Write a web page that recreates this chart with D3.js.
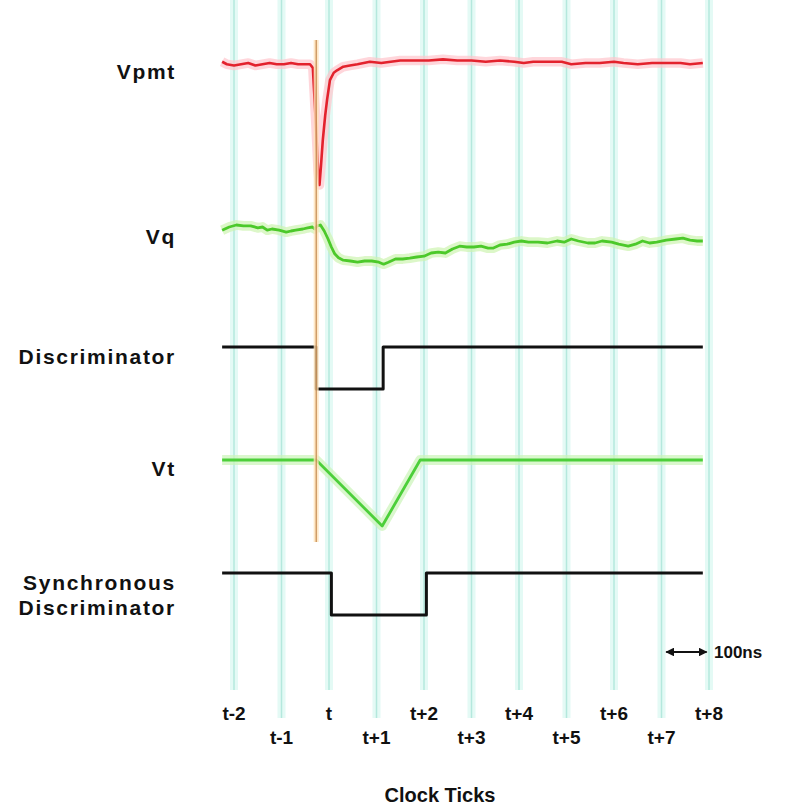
<!DOCTYPE html>
<html>
<head>
<meta charset="utf-8">
<script src="https://cdn.jsdelivr.net/npm/d3@7"></script>
<style>
  html, body { margin: 0; padding: 0; background: #fff; }
  svg { display: block; }
  text { font-family: "Liberation Sans", Arial, sans-serif; font-weight: bold; fill: #111; }
</style>
</head>
<body>
<svg id="chart" width="797" height="807"></svg>
<script>
// Clock ticks (in clock periods relative to t)
const tickValues = [-2, -1, 0, 1, 2, 3, 4, 5, 6, 7, 8];
const tickLabels = ["t-2", "t-1", "t", "t+1", "t+2", "t+3", "t+4", "t+5", "t+6", "t+7", "t+8"];

// Row names
const rowLabels = ["Vpmt", "Vq", "Discriminator", "Vt", "Synchronous\nDiscriminator"];

// Photon arrival time (clock periods)
const arrivalTime = -0.27;

// PMT anode voltage, normalised to the pulse peak [time, value]
const vpmt = [
  [-2.25, 0.01], [-2.15, -0.01], [-2.0, -0.02], [-1.85, -0.01], [-1.7, 0.0], [-1.55, -0.02],
  [-1.4, -0.01], [-1.25, 0.0], [-1.1, -0.01], [-0.95, -0.01], [-0.8, 0.0], [-0.65, -0.01],
  [-0.5, -0.01], [-0.4, -0.01], [-0.34, -0.04], [-0.28, -0.47], [-0.23, -0.88], [-0.2, -1.0],
  [-0.17, -0.85], [-0.13, -0.63], [-0.08, -0.43], [-0.04, -0.30], [0.02, -0.14], [0.1, -0.08],
  [0.17, -0.06], [0.3, -0.03], [0.44, -0.02], [0.6, -0.01], [0.86, 0.01], [1.1, 0.0],
  [1.3, 0.01], [1.5, 0.02], [1.8, 0.02], [2.1, 0.02], [2.4, 0.03], [2.7, 0.02], [3.0, 0.02],
  [3.3, 0.01], [3.6, 0.02], [3.9, 0.01], [4.1, 0.0], [4.3, 0.01], [4.6, 0.01], [4.9, 0.01],
  [5.1, -0.01], [5.4, 0.0], [5.7, 0.0], [6.0, 0.01], [6.2, 0.0], [6.5, -0.01], [6.8, 0.0],
  [7.1, 0.0], [7.4, 0.0], [7.6, -0.01], [7.87, 0.0]
];

// Integrated charge voltage, normalised [time, value]
const vq = [
  [-2.25, -0.03], [-2.1, 0.05], [-1.95, 0.10], [-1.8, 0.08], [-1.65, 0.08], [-1.5, 0.03],
  [-1.4, 0.05], [-1.3, -0.03], [-1.2, 0.0], [-1.05, -0.03], [-0.9, -0.08], [-0.8, -0.05],
  [-0.7, -0.03], [-0.55, 0.0], [-0.45, 0.03], [-0.35, 0.05], [-0.3, 0.0], [-0.25, 0.08],
  [-0.18, 0.10], [-0.1, -0.05], [-0.02, -0.25], [0.05, -0.45], [0.12, -0.62], [0.2, -0.72],
  [0.3, -0.78], [0.45, -0.8], [0.6, -0.83], [0.75, -0.8], [0.9, -0.8], [1.05, -0.83],
  [1.15, -0.88], [1.25, -0.83], [1.4, -0.75], [1.55, -0.75], [1.7, -0.73], [1.85, -0.70],
  [2.0, -0.68], [2.15, -0.6], [2.3, -0.58], [2.45, -0.6], [2.6, -0.5], [2.75, -0.43],
  [2.9, -0.45], [3.05, -0.45], [3.2, -0.43], [3.35, -0.48], [3.45, -0.48], [3.6, -0.4],
  [3.75, -0.38], [3.9, -0.33], [4.05, -0.3], [4.2, -0.33], [4.4, -0.33], [4.6, -0.35],
  [4.8, -0.30], [4.95, -0.33], [5.1, -0.25], [5.25, -0.30], [5.45, -0.35], [5.6, -0.35],
  [5.75, -0.30], [5.95, -0.33], [6.1, -0.38], [6.3, -0.43], [6.45, -0.38], [6.6, -0.30],
  [6.75, -0.35], [6.9, -0.33], [7.1, -0.28], [7.3, -0.25], [7.45, -0.23], [7.6, -0.28],
  [7.75, -0.30], [7.87, -0.30]
];

// Discriminator logic level (step after each point)
const discriminator = [[-2.25, 1], [-0.27, 0], [1.14, 1], [7.87, 1]];

// Time-to-amplitude ramp, normalised
const vt = [[-2.25, 0], [-0.27, 0], [1.12, -1], [1.92, 0], [7.87, 0]];

// Discriminator output re-timed to the clock (step after each point)
const syncDiscriminator = [[-2.25, 1], [0.05, 0], [2.05, 1], [7.87, 1]];

// Scale bar length (clock periods) and its label
const scaleBar = [7.1, 7.95];
const scaleBarLabel = "100ns";

const svg = d3.select("#chart");

const x = d3.scaleLinear().domain([-2, 8]).range([234, 709]);

// One vertical scale per trace row
const yPmt = d3.scaleLinear().domain([-1, 0]).range([185, 63]);
const yQ = d3.scaleLinear().domain([-1, 0]).range([269, 229]);
const yDisc = d3.scaleLinear().domain([0, 1]).range([389, 347]);
const yT = d3.scaleLinear().domain([-1, 0]).range([526, 460]);
const ySync = d3.scaleLinear().domain([0, 1]).range([615, 573]);

// Clock tick grid lines: soft cyan band with a thin core
const grid = svg.append("g");
tickValues.forEach((v, i) => {
  const bottom = i % 2 === 0 ? 690 : 718;
  grid.append("line")
    .attr("x1", x(v)).attr("x2", x(v)).attr("y1", 0).attr("y2", bottom)
    .attr("stroke", "#e4faf5").attr("stroke-width", 8);
  grid.append("line")
    .attr("x1", x(v)).attr("x2", x(v)).attr("y1", 0).attr("y2", bottom)
    .attr("stroke", "#b4e8dd").attr("stroke-width", 1.5);
});

// Tick labels, staggered on two rows
svg.append("g").selectAll("text")
  .data(tickValues)
  .join("text")
  .attr("x", d => x(d))
  .attr("y", (d, i) => i % 2 === 0 ? 720 : 744)
  .attr("text-anchor", "middle")
  .attr("font-size", 19)
  .text((d, i) => tickLabels[i]);

svg.append("text")
  .attr("x", 440).attr("y", 802)
  .attr("text-anchor", "middle")
  .attr("font-size", 20)
  .text("Clock Ticks");

// Trace drawing helper: wide pale halo under a solid core line
function trace(data, y, color, halo, width, curve) {
  const line = d3.line().x(d => x(d[0])).y(d => y(d[1])).curve(curve || d3.curveLinear);
  if (halo) {
    svg.append("path").datum(data)
      .attr("d", line).attr("fill", "none")
      .attr("stroke", halo).attr("stroke-width", width + 7)
      .attr("stroke-linejoin", "round").attr("stroke-opacity", 0.7);
  }
  svg.append("path").datum(data)
    .attr("d", line).attr("fill", "none")
    .attr("stroke", color).attr("stroke-width", width)
    .attr("stroke-linejoin", "round");
}

trace(vpmt, yPmt, "#e3222d", "#ffc4cc", 2.6);
trace(vq, yQ, "#4cc92a", "#cdf3b0", 2.8);
trace(discriminator, yDisc, "#111", null, 3, d3.curveStepAfter);
trace(vt, yT, "#4ccf3a", "#caf3b8", 2.8);
trace(syncDiscriminator, ySync, "#111", null, 3, d3.curveStepAfter);

// Photon arrival marker
svg.append("line")
  .attr("x1", x(arrivalTime)).attr("x2", x(arrivalTime)).attr("y1", 40).attr("y2", 542)
  .attr("stroke", "#ffe2b8").attr("stroke-width", 5).attr("stroke-opacity", 0.8);
svg.append("line")
  .attr("x1", x(arrivalTime)).attr("x2", x(arrivalTime)).attr("y1", 40).attr("y2", 542)
  .attr("stroke", "#b8783c").attr("stroke-width", 1);

// Row labels
const rowBaselines = [79, 244, 364, 476, 590];
rowLabels.forEach((label, i) => {
  const t = svg.append("text")
    .attr("x", 176).attr("y", rowBaselines[i])
    .attr("text-anchor", "end")
    .attr("font-size", 21)
    .attr("letter-spacing", 1.7);
  label.split("\n").forEach((part, j) => {
    t.append("tspan").attr("x", 176).attr("dy", j === 0 ? 0 : 25).text(part);
  });
});

// Scale bar with arrowheads at both ends
const defs = svg.append("defs");
defs.append("marker")
  .attr("id", "arrow").attr("viewBox", "0 0 10 10")
  .attr("refX", 9).attr("refY", 5)
  .attr("markerWidth", 4).attr("markerHeight", 4)
  .attr("orient", "auto-start-reverse")
  .append("path").attr("d", "M0,0L10,5L0,10Z").attr("fill", "#111");
svg.append("line")
  .attr("x1", x(scaleBar[0])).attr("x2", x(scaleBar[1]))
  .attr("y1", 652).attr("y2", 652)
  .attr("stroke", "#111").attr("stroke-width", 2.2)
  .attr("marker-start", "url(#arrow)").attr("marker-end", "url(#arrow)");
svg.append("text")
  .attr("x", 714).attr("y", 658)
  .attr("font-size", 17)
  .text(scaleBarLabel);
</script>
</body>
</html>
